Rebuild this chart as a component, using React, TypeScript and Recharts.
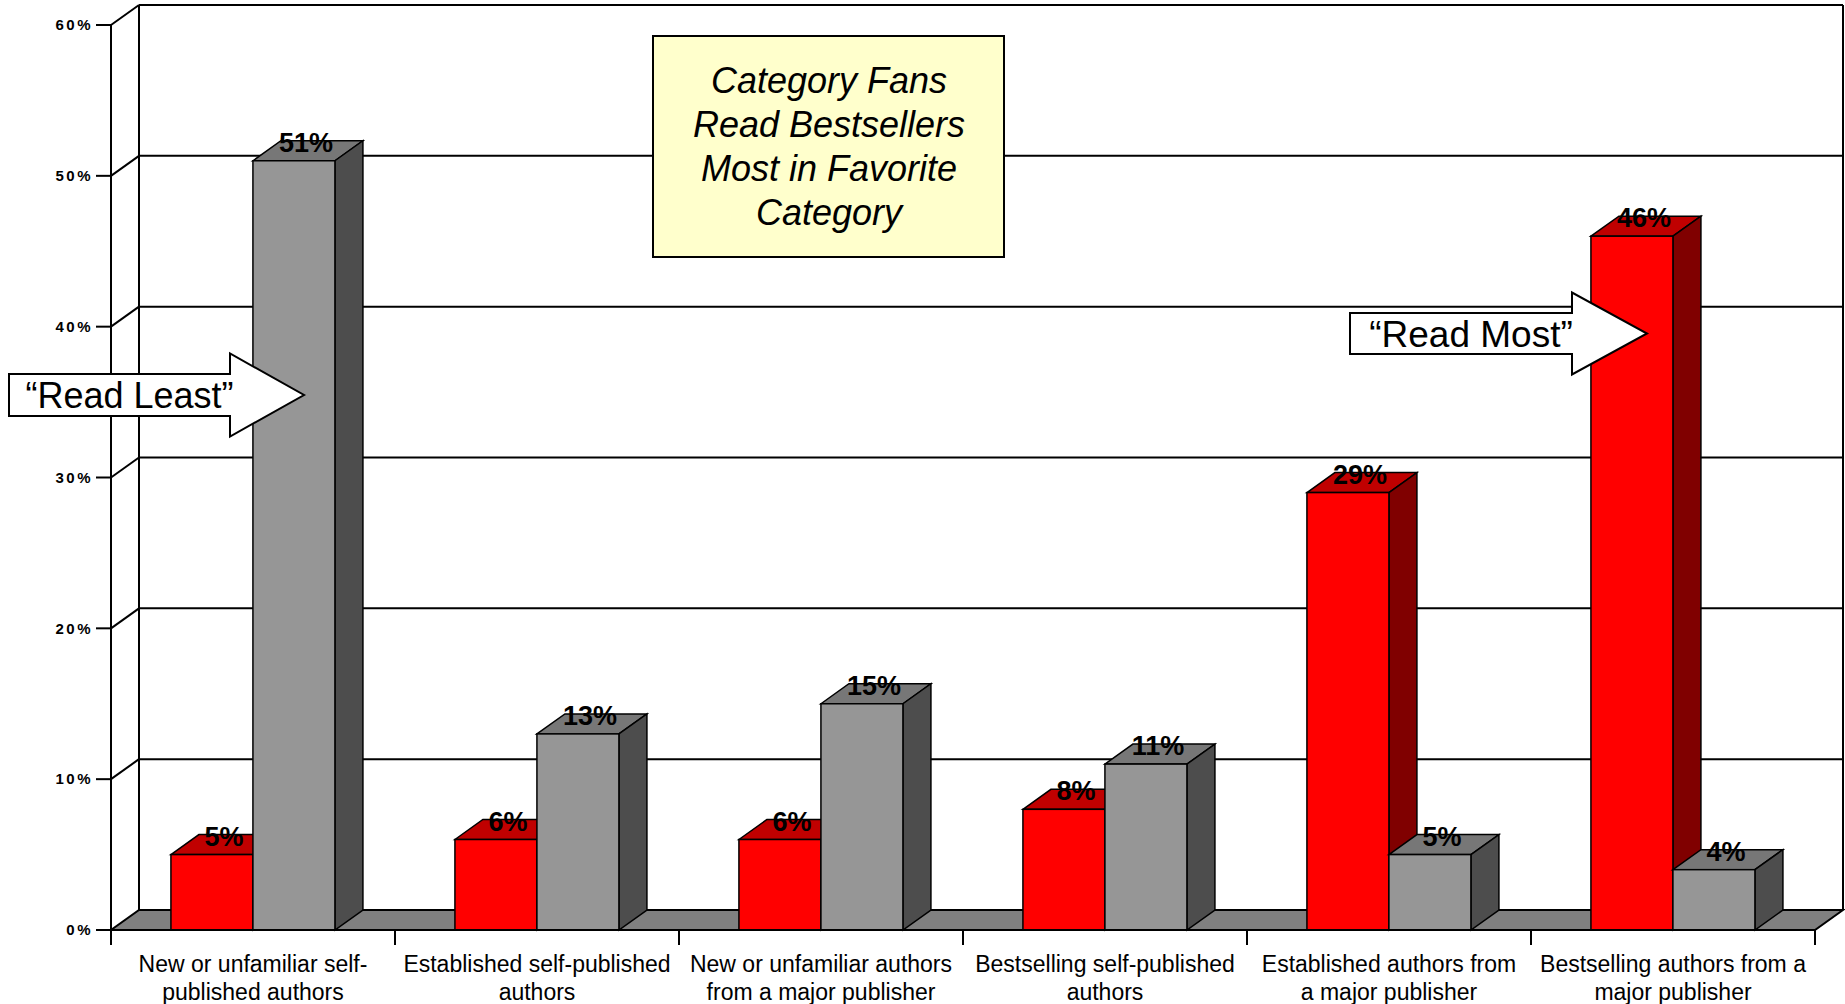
import React from 'react';
import { BarChart, Bar, XAxis, YAxis, CartesianGrid, LabelList } from 'recharts';

const categories = [
  'New or unfamiliar self-published authors',
  'Established self-published authors',
  'New or unfamiliar authors from a major publisher',
  'Bestselling self-published authors',
  'Established authors from a major publisher',
  'Bestselling authors from a major publisher',
];
const categoryLines = [
  ['New or unfamiliar self-', 'published authors'],
  ['Established self-published', 'authors'],
  ['New or unfamiliar authors', 'from a major publisher'],
  ['Bestselling self-published', 'authors'],
  ['Established authors from', 'a major publisher'],
  ['Bestselling authors from a', 'major publisher'],
];
const categoryFans = [5, 6, 6, 8, 29, 46];
const otherReaders = [51, 13, 15, 11, 5, 4];
const yTicks = [0, 10, 20, 30, 40, 50, 60];
const calloutLines = ['Category Fans', 'Read Bestsellers', 'Most in Favorite', 'Category'];

const data = categories.map((name, i) => ({
  name,
  fans: categoryFans[i],
  others: otherReaders[i],
}));

const W = 1845;
const H = 1004;
const DX = 28; // depth offset of the 3d box
const DY = 20;
const FONT = '"Liberation Sans", Arial, Helvetica, sans-serif';
const MARGIN = { top: 25, right: 30, left: 0, bottom: 0 };
const Y_AXIS_W = 111;
const X_AXIS_H = 74;
const X_TICK_SIZE = 15;
const BAND = (W - MARGIN.left - MARGIN.right - Y_AXIS_W) / categories.length;

const make3DBar = (front: string, top: string, side: string) => (props: any) => {
  const { x, y, width, height } = props;
  if (x == null || y == null || !width || height == null) return <g />;
  const x2 = x + width;
  const yb = y + height;
  return (
    <g>
      <polygon
        points={`${x},${y} ${x + DX},${y - DY} ${x2 + DX},${y - DY} ${x2},${y}`}
        fill={top}
        stroke="#000"
        strokeWidth={1.5}
      />
      <polygon
        points={`${x2},${y} ${x2 + DX},${y - DY} ${x2 + DX},${yb - DY} ${x2},${yb}`}
        fill={side}
        stroke="#000"
        strokeWidth={1.5}
      />
      <rect x={x} y={y} width={width} height={height} fill={front} stroke="#000" strokeWidth={1.5} />
    </g>
  );
};

const RedBar = make3DBar('#FF0000', '#C00000', '#800000');
const GrayBar = make3DBar('#969696', '#777777', '#4D4D4D');

// grid line on the back wall + diagonal on the side wall, frame drawn with the outer lines
const GridLine = (props: any) => {
  const { x1, x2, y1, key } = props;
  const top = props.y ?? MARGIN.top;
  const bottom = top + (props.height ?? H - MARGIN.top - X_AXIS_H);
  const isBottom = Math.abs(y1 - bottom) < 1;
  const isTop = Math.abs(y1 - top) < 1;
  return (
    <g key={key}>
      {isTop && (
        <g>
          <line x1={x1 + DX} y1={top - DY} x2={x1 + DX} y2={bottom - DY} stroke="#000" strokeWidth={2} />
          <line x1={x2 + DX} y1={top - DY} x2={x2 + DX} y2={bottom - DY} stroke="#000" strokeWidth={2} />
        </g>
      )}
      {isBottom ? (
        <polygon
          points={`${x1},${y1} ${x2},${y1} ${x2 + DX},${y1 - DY} ${x1 + DX},${y1 - DY}`}
          fill="#808080"
          stroke="#000"
          strokeWidth={2}
        />
      ) : (
        <g>
          <line x1={x1} y1={y1} x2={x1 + DX} y2={y1 - DY} stroke="#000" strokeWidth={2} />
          <line x1={x1 + DX} y1={y1 - DY} x2={x2 + DX} y2={y1 - DY} stroke="#000" strokeWidth={2} />
        </g>
      )}
    </g>
  );
};

const YTick = (props: any) => {
  const { x, y, payload } = props;
  return (
    <text x={x} y={y} dy="0.35em" textAnchor="end" fontFamily={FONT} fontWeight="bold" fontSize={15} letterSpacing={2.5} fill="#000">
      {payload.value}%
    </text>
  );
};

const XTick = (props: any) => {
  const { x, y, payload } = props;
  const idx = categories.indexOf(payload.value);
  const half = payload.offset ?? BAND / 2;
  const axisY = y - X_TICK_SIZE;
  const lines = categoryLines[idx] || [payload.value, ''];
  return (
    <g>
      <line x1={x - half} y1={axisY} x2={x - half} y2={axisY + X_TICK_SIZE} stroke="#000" strokeWidth={2} />
      {idx === categories.length - 1 && (
        <line x1={x + half} y1={axisY} x2={x + half} y2={axisY + X_TICK_SIZE} stroke="#000" strokeWidth={2} />
      )}
      <text x={x} y={axisY + 42} textAnchor="middle" fontFamily={FONT} fontSize={23} fill="#000">
        {lines[0]}
      </text>
      <text x={x} y={axisY + 70} textAnchor="middle" fontFamily={FONT} fontSize={23} fill="#000">
        {lines[1]}
      </text>
    </g>
  );
};

const renderValue = (props: any) => {
  const { x, y, width, value } = props;
  return (
    <text x={x + width / 2 + DX / 2 - 2} y={y - 9} textAnchor="middle" fontFamily={FONT} fontWeight="bold" fontSize={27} fill="#000">
      {value}%
    </text>
  );
};

const Arrow = ({ x, y, w, h, headW, headH, label, fontSize }: any) => {
  const mid = y + h / 2;
  const hx = x + w;
  const pts = [
    [x, y], [hx, y], [hx, mid - headH / 2], [hx + headW, mid],
    [hx, mid + headH / 2], [hx, y + h], [x, y + h],
  ].map((p) => p.join(',')).join(' ');
  return (
    <g>
      <polygon points={pts} fill="#fff" stroke="#000" strokeWidth={2} />
      <text x={x + (w + 20) / 2} y={mid + fontSize * 0.36} textAnchor="middle" fontFamily={FONT} fontSize={fontSize} fill="#000">
        {label}
      </text>
    </g>
  );
};

export default function App() {
  return (
    <div style={{ position: 'absolute', left: 0, top: 0, width: W, height: H, background: '#fff' }}>
      <BarChart width={W} height={H} data={data} margin={MARGIN} barCategoryGap="21.1%" barGap={0}>
        <CartesianGrid vertical={false} horizontal={GridLine} />
        <XAxis
          dataKey="name"
          height={X_AXIS_H}
          interval={0}
          tickLine={false}
          tickSize={X_TICK_SIZE}
          tickMargin={0}
          axisLine={{ stroke: '#000', strokeWidth: 2 }}
          tick={XTick}
        />
        <YAxis
          width={Y_AXIS_W}
          domain={[0, 60]}
          ticks={yTicks}
          interval={0}
          tickSize={15}
          tickMargin={3}
          axisLine={{ stroke: '#000', strokeWidth: 2 }}
          tickLine={{ stroke: '#000', strokeWidth: 2 }}
          tick={YTick}
        />
        <Bar dataKey="fans" name="Category fans" shape={RedBar} isAnimationActive={false}>
          <LabelList dataKey="fans" content={renderValue} />
        </Bar>
        <Bar dataKey="others" name="Other readers" shape={GrayBar} isAnimationActive={false}>
          <LabelList dataKey="others" content={renderValue} />
        </Bar>
      </BarChart>
      <svg width={W} height={H} style={{ position: 'absolute', left: 0, top: 0, pointerEvents: 'none' }}>
        <rect x={653} y={36} width={351} height={221} fill="#FFFFCC" stroke="#000" strokeWidth={2} />
        {calloutLines.map((t, i) => (
          <text key={t + i} x={829} y={93 + i * 44} textAnchor="middle" fontFamily={FONT} fontStyle="italic" fontSize={36} fill="#000">
            {t}
          </text>
        ))}
        <Arrow x={9} y={374} w={221} h={42} headW={74} headH={83} label={'\u201CRead Least\u201D'} fontSize={36} />
        <Arrow x={1350} y={313} w={222} h={41} headW={75} headH={82} label={'\u201CRead Most\u201D'} fontSize={37} />
      </svg>
    </div>
  );
}
